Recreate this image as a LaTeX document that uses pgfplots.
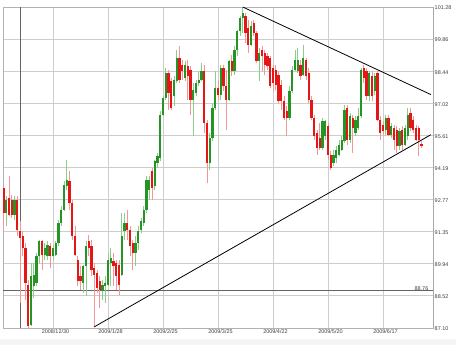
\documentclass[border=0pt]{standalone}
\usepackage{pgfplots}
\pgfplotsset{compat=1.18}
\usepackage{pgfplotstable}
\usepackage{fontspec}
\setmainfont{Liberation Sans}
\definecolor{upb}{RGB}{36,148,36}
\definecolor{upw}{RGB}{140,205,140}
\definecolor{dnb}{RGB}{228,22,22}
\definecolor{dnw}{RGB}{242,150,150}
\definecolor{gridc}{RGB}{205,205,205}
\definecolor{darkl}{RGB}{100,100,100}

\pgfplotstableread{
n o h l c
1 92.18 92.91 91.59 92.77
4 92.10 92.91 91.88 92.77
10 87.24 89.97 87.17 89.38
11 88.94 89.97 88.42 89.45
12 89.09 90.41 88.94 90.26
13 90.26 91.00 89.97 90.93
15 90.34 90.85 90.12 90.63
16 90.26 90.93 90.12 90.78
18 90.26 90.78 90.12 90.63
19 90.34 90.93 90.26 90.85
20 90.85 91.88 90.71 91.74
21 91.74 92.47 91.59 92.33
22 92.33 93.58 92.25 93.43
23 93.36 94.53 93.21 93.65
29 89.09 89.90 88.64 89.82
30 89.82 90.93 88.50 90.71
36 88.72 89.23 88.35 89.01
37 88.94 89.38 88.20 89.09
38 89.01 90.41 88.94 90.12
39 89.97 90.63 88.94 90.19
43 89.45 92.18 89.38 91.15
44 91.37 92.18 91.00 91.74
48 90.41 91.15 89.82 90.85
49 90.85 91.59 90.56 91.37
50 91.44 91.96 91.29 91.81
51 91.74 92.47 91.59 92.33
52 92.33 93.80 92.18 93.65
53 93.21 93.80 92.77 93.65
55 93.36 94.54 93.21 94.46
56 94.39 94.83 94.17 94.68
57 94.61 96.67 94.46 96.52
58 96.52 97.33 96.45 97.26
59 97.26 98.58 97.19 98.36
62 97.33 98.22 96.89 98.07
63 97.99 99.39 97.92 99.03
66 98.14 98.88 97.99 98.73
69 97.19 97.92 95.57 97.63
70 97.48 98.07 97.33 97.92
71 97.92 98.44 97.77 98.07
72 98.07 98.80 97.99 98.44
75 94.39 95.71 94.09 95.49
76 95.49 97.04 95.35 96.82
77 96.82 98.44 96.74 97.70
79 97.41 98.73 97.19 98.58
82 97.19 98.95 97.11 98.88
84 98.44 99.54 98.29 99.39
85 99.39 100.28 99.10 100.20
86 100.20 100.87 99.98 100.79
87 100.79 101.28 100.13 101.01
90 99.61 100.65 99.54 100.42
93 98.88 99.47 97.99 99.25
104 96.38 97.77 96.30 97.55
105 97.55 98.66 97.48 98.51
106 98.51 99.39 98.44 98.95
107 98.44 99.47 98.36 98.95
109 98.29 99.61 98.22 99.03
116 95.05 96.38 94.98 96.23
117 95.57 96.30 95.42 96.23
120 94.39 94.98 94.24 94.76
121 94.61 95.12 94.39 94.98
122 94.76 95.42 94.68 95.20
123 94.98 95.57 94.90 95.42
124 95.35 96.97 95.27 96.74
126 95.42 96.60 95.27 96.45
128 95.71 96.45 95.57 96.30
129 95.93 96.82 95.86 96.45
130 96.45 98.58 96.38 98.51
133 97.33 98.44 97.11 98.36
135 97.55 98.36 97.41 98.22
139 95.86 96.52 95.64 96.38
141 95.64 96.15 95.49 96.01
144 95.12 95.93 94.98 95.79
146 95.20 96.08 95.12 95.93
147 95.57 96.82 95.42 96.52
}\up

\pgfplotstableread{
n o h l c
0 93.28 93.39 91.52 92.18
2 92.84 93.80 92.03 92.10
3 92.77 92.99 91.96 92.10
5 92.77 92.91 91.15 91.44
6 91.37 91.81 88.20 91.07
7 91.15 91.37 90.26 90.63
8 90.63 90.85 88.35 89.09
9 89.01 89.23 87.10 87.17
14 90.93 91.00 89.68 90.34
17 90.71 90.85 89.75 90.26
24 93.58 94.02 92.33 92.62
25 92.62 92.77 91.00 91.15
26 91.15 91.59 90.26 90.34
27 90.12 90.26 88.94 89.16
28 89.38 89.82 88.79 89.16
31 90.93 91.22 90.26 90.63
32 90.71 91.00 89.38 89.68
33 89.75 89.97 87.15 89.45
34 89.53 89.68 88.64 88.87
35 89.16 89.38 87.98 88.79
40 90.04 90.41 88.94 89.82
41 89.97 90.12 88.79 89.38
42 89.90 90.12 88.57 89.01
45 91.74 92.33 91.00 91.44
46 91.44 91.59 90.26 90.71
47 90.85 91.00 89.68 90.41
54 94.02 94.17 92.77 93.28
60 98.36 98.51 96.74 97.48
61 97.99 98.14 96.74 96.82
64 99.03 99.54 97.92 98.07
65 98.73 98.95 98.07 98.44
67 98.66 98.95 97.19 98.22
68 98.51 98.66 96.52 97.19
73 98.44 98.73 95.71 96.15
74 96.15 96.30 93.50 94.39
78 97.70 98.07 97.19 97.41
80 98.58 98.73 97.55 97.77
81 97.77 98.51 95.86 97.19
83 98.88 99.17 98.22 98.44
88 100.87 101.01 99.69 100.13
89 100.35 100.72 99.25 99.61
91 100.57 100.72 99.98 100.13
92 100.13 100.20 98.80 98.88
94 99.39 99.54 98.44 99.10
95 99.25 99.39 98.29 98.73
96 99.10 99.25 98.51 98.66
97 99.03 99.10 97.70 97.77
98 98.58 98.73 97.55 97.92
99 98.51 98.73 97.63 97.85
100 98.29 98.44 97.04 97.11
101 97.85 98.07 96.74 97.11
102 97.11 97.33 96.30 96.38
103 96.67 96.89 95.57 96.38
108 98.73 98.95 98.07 98.22
110 98.95 99.03 98.07 98.22
111 98.36 98.58 97.04 97.19
112 97.19 97.33 96.30 96.38
113 96.38 96.52 95.42 95.57
114 95.71 95.86 94.76 95.05
115 95.49 96.15 94.98 95.05
118 96.01 96.15 94.54 94.76
119 94.76 94.90 94.09 94.17
125 96.82 96.97 95.20 95.42
127 96.38 96.52 94.83 95.93
131 98.58 98.73 97.92 98.14
132 98.44 98.58 97.19 97.33
134 98.22 98.44 97.11 97.33
136 98.36 98.44 96.23 96.30
137 96.30 96.45 95.42 95.71
138 96.08 96.23 95.64 95.79
140 96.38 96.52 95.57 95.64
142 95.93 96.08 94.98 95.42
143 95.86 96.01 94.83 95.12
145 95.86 96.01 94.98 95.20
148 96.60 96.82 95.79 95.93
149 96.30 96.45 95.71 95.86
150 95.93 96.08 95.35 95.42
151 95.93 96.01 94.68 95.42
152 95.23 95.35 95.05 95.15
}\down

\begin{document}
\begin{tikzpicture}
\path[use as bounding box] (-3bp,-17bp) rectangle (453bp,328bp);
\fill[gray!8] (-3bp,-17bp) rectangle (453bp,-11bp);
\begin{axis}[
  scale only axis, width=430bp, height=321bp,
  xmin=-0.18, xmax=156.2, ymin=87.10, ymax=101.28,
  axis line style={draw=gray!60, line width=0.8bp},
  xtick={18,38,58,78,98,118,138},
  xticklabels={2008/12/30,2009/1/28,2009/2/25,2009/3/25,2009/4/22,2009/5/20,2009/6/17},
  ytick={87.10,88.518,89.936,91.354,92.772,94.190,95.608,97.026,98.444,99.862,101.28},
  yticklabels={87.10,88.52,89.94,91.35,92.77,94.19,95.61,97.02,98.44,99.86,101.28},
  yticklabel pos=right,
  grid=major, grid style={draw=gridc, line width=0.8bp},
  major tick length=0pt,
  /pgf/number format/assume math mode=true,
  tick label style={font=\fontsize{5.5}{6}\selectfont, text=black!75},
  xticklabel style={inner sep=1.5bp, xshift=2.5bp},
  yticklabel style={inner sep=1.5bp, yshift=-1bp},
]
\addplot[darkl, line width=0.8bp, forget plot] coordinates {(6,87.10) (6,101.28)};
\addplot[darkl, line width=0.8bp, forget plot] coordinates {(-0.18,88.76) (156.2,88.76)};
% wicks
\addplot[draw=none, mark=none, forget plot, error bars/.cd, y dir=plus, y explicit, error mark=none,
  error bar style={draw=upw, line width=0.9bp}]
  table[x=n, y=l, y error plus expr=\thisrow{h}-\thisrow{l}] {\up};
\addplot[draw=none, mark=none, forget plot, error bars/.cd, y dir=plus, y explicit, error mark=none,
  error bar style={draw=dnw, line width=0.9bp}]
  table[x=n, y=l, y error plus expr=\thisrow{h}-\thisrow{l}] {\down};
% bodies
\addplot[draw=none, mark=none, forget plot, error bars/.cd, y dir=plus, y explicit, error mark=none,
  error bar style={draw=upb, line width=2.1bp}]
  table[x=n, y=o, y error plus expr=\thisrow{c}-\thisrow{o}] {\up};
\addplot[draw=none, mark=none, forget plot, error bars/.cd, y dir=plus, y explicit, error mark=none,
  error bar style={draw=dnb, line width=2.1bp}]
  table[x=n, y=c, y error plus expr=\thisrow{o}-\thisrow{c}] {\down};
% trend lines
\addplot[black, line width=0.8bp] coordinates {(87,101.28) (155.45,97.41)};
\addplot[black, line width=0.8bp] coordinates {(33,87.15) (155.45,95.64)};
\node[anchor=east, font=\fontsize{5.5}{6}\selectfont, text=black!75, inner sep=0.5bp, xshift=-4bp, yshift=1.5bp] at (axis cs:156.2,88.76) {88.76};
\draw[darkl, line width=0.8bp] (rel axis cs:1,0) -- (rel axis cs:1,1);
\draw[darkl, line width=0.8bp] (rel axis cs:0,0) -- (rel axis cs:1,0);
\end{axis}
\end{tikzpicture}
\end{document}
